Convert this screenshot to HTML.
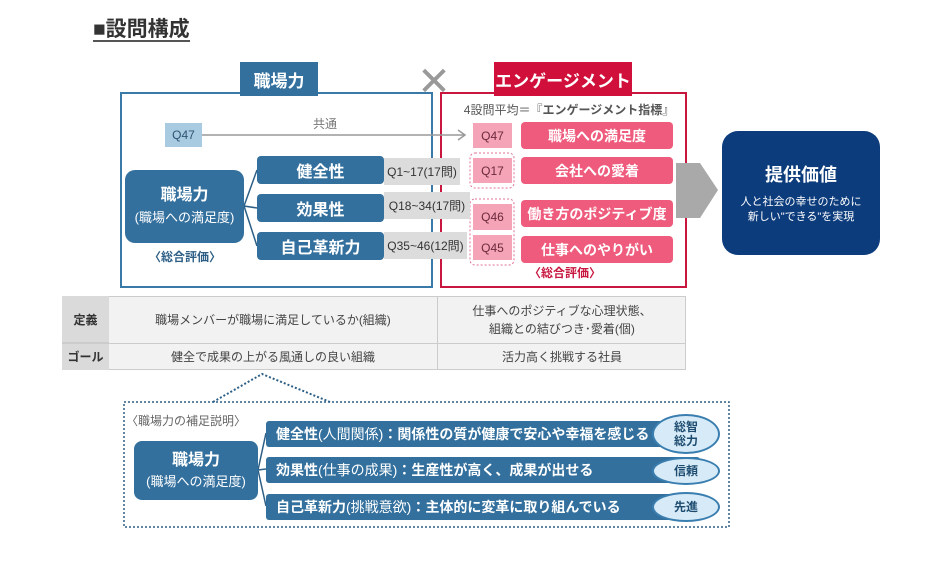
<!DOCTYPE html>
<html><head><meta charset="utf-8"><style>
*{margin:0;padding:0;box-sizing:border-box}
body{width:947px;height:578px;background:#fff;position:relative;overflow:hidden;font-family:"Liberation Sans","Noto Sans CJK JP",sans-serif}
.a{position:absolute;display:flex;align-items:center;justify-content:center;text-align:center;white-space:nowrap}
.bl{background:#33709e;color:#fff;font-weight:bold}
.pk{background:#ef5b7c;color:#fff;font-weight:bold;border-radius:4px;font-size:14px}
.pq{background:#f5a3b7;color:#6b2a3a;font-size:12px}
.gq{background:#dcdcdc;color:#333;font-size:12px}
.ov{background:#d6ebf7;border:2px solid #3a7eb0;border-radius:50%;color:#1e4c70;font-weight:bold;font-size:12px;line-height:14px}
</style></head><body>
<div class="a" style="left:93px;top:16px;height:26px;font-size:21px;font-weight:bold;color:#333;border-bottom:2px solid #555">■設問構成</div>

<div style="position:absolute;left:120px;top:92px;width:313px;height:196px;border:2px solid #3a7aa8"></div>
<div style="position:absolute;left:440px;top:92px;width:247px;height:196px;border:2px solid #c8163e"></div>
<div class="a bl" style="left:240px;top:62px;width:78px;height:34px;font-size:17px">職場力</div>
<div class="a" style="left:494px;top:62px;width:138px;height:34px;font-size:17px;font-weight:bold;color:#fff;background:#d0103a">エンゲージメント</div>
<div class="a" style="left:414px;top:62px;width:40px;height:40px;font-size:40px;color:#999;font-weight:300">✕</div>

<svg style="position:absolute;left:0;top:0" width="947" height="578">
<line x1="202" y1="135" x2="465" y2="135" stroke="#999" stroke-width="1.5"/>
<polyline points="458,130 465,135 458,140" fill="none" stroke="#999" stroke-width="1.5"/>
<path d="M244 206 L257 170 M244 206 L257 208 M244 206 L257 246" stroke="#2d5f86" stroke-width="1.5" fill="none"/>
<rect x="470" y="153" width="44" height="35" rx="5" fill="none" stroke="#e07090" stroke-dasharray="2,2"/>
<rect x="470" y="199" width="44" height="66" rx="5" fill="none" stroke="#e07090" stroke-dasharray="2,2"/>
<polygon points="676,163 700,163 718,190 700,218 676,218" fill="#a9a9a9"/>
<polyline points="213,402 262,374 330,402" fill="none" stroke="#2d5f86" stroke-width="2" stroke-dasharray="2,2"/>
<rect x="124" y="402" width="605" height="125" fill="none" stroke="#2d5f86" stroke-width="1.5" stroke-dasharray="2,2"/>
<path d="M258 470 L266 433 M258 470 L266 469 M258 470 L266 506" stroke="#2d5f86" stroke-width="1.5" fill="none"/>
</svg>

<div class="a" style="left:165px;top:123px;width:37px;height:24px;background:#a8cbe2;color:#2d5470;font-size:12px">Q47</div>
<div class="a" style="left:300px;top:115px;width:50px;height:16px;font-size:12px;color:#777">共通</div>

<div class="a bl" style="left:125px;top:170px;width:119px;height:73px;border-radius:10px;flex-direction:column;font-size:16px;line-height:22px">職場力<span style="font-size:13px;font-weight:normal">(職場への満足度)</span></div>
<div class="a" style="left:145px;top:248px;width:80px;height:16px;font-size:12px;font-weight:bold;color:#2d5f86">〈総合評価〉</div>

<div class="a bl" style="left:257px;top:156px;width:127px;height:28px;border-radius:4px;font-size:16px">健全性</div>
<div class="a bl" style="left:257px;top:194px;width:127px;height:28px;border-radius:4px;font-size:16px">効果性</div>
<div class="a bl" style="left:257px;top:232px;width:127px;height:28px;border-radius:4px;font-size:16px">自己革新力</div>
<div class="a gq" style="left:384px;top:158px;width:76px;height:27px">Q1~17(17問)</div>
<div class="a gq" style="left:384px;top:192px;width:86px;height:27px">Q18~34(17問)</div>
<div class="a gq" style="left:384px;top:232px;width:83px;height:27px">Q35~46(12問)</div>

<div class="a" style="left:474px;top:101px;width:190px;height:16px;font-size:12px;color:#555">4設問平均＝『<b>エンゲージメント指標</b>』</div>
<div class="a pq" style="left:473px;top:123px;width:39px;height:25px">Q47</div>
<div class="a pq" style="left:473px;top:158px;width:39px;height:25px">Q17</div>
<div class="a pq" style="left:473px;top:204px;width:39px;height:26px">Q46</div>
<div class="a pq" style="left:473px;top:235px;width:39px;height:25px">Q45</div>
<div class="a pk" style="left:521px;top:122px;width:152px;height:27px">職場への満足度</div>
<div class="a pk" style="left:521px;top:157px;width:152px;height:27px">会社への愛着</div>
<div class="a pk" style="left:521px;top:200px;width:152px;height:27px">働き方のポジティブ度</div>
<div class="a pk" style="left:521px;top:236px;width:152px;height:27px">仕事へのやりがい</div>
<div class="a" style="left:520px;top:264px;width:90px;height:16px;font-size:12px;font-weight:bold;color:#c8163e">〈総合評価〉</div>

<div class="a" style="left:722px;top:131px;width:158px;height:124px;background:#0d3c7c;border-radius:16px;color:#fff;flex-direction:column">
<div style="font-size:18px;font-weight:bold;margin-bottom:8px">提供価値</div>
<div style="font-size:11px;line-height:15px">人と社会の幸せのために<br>新しい"できる"を実現</div></div>

<div style="position:absolute;left:62px;top:296px;width:624px;height:74px;border:1px solid #ccc;background:#f2f2f2"></div>
<div class="a" style="left:62px;top:296px;width:47px;height:47px;background:#dadada;font-size:12px;font-weight:bold;color:#333;border-bottom:1px solid #ccc">定義</div>
<div class="a" style="left:62px;top:343px;width:47px;height:27px;background:#dadada;font-size:12px;font-weight:bold;color:#333">ゴール</div>
<div style="position:absolute;left:62px;top:343px;width:624px;height:1px;background:#ccc"></div>
<div style="position:absolute;left:437px;top:296px;width:1px;height:74px;background:#ccc"></div>
<div class="a" style="left:109px;top:296px;width:328px;height:47px;font-size:12px;color:#444">職場メンバーが職場に満足しているか(組織)</div>
<div class="a" style="left:438px;top:296px;width:248px;height:47px;font-size:12px;color:#444;line-height:18px;white-space:normal">仕事へのポジティブな心理状態、<br>組織との結びつき･愛着(個)</div>
<div class="a" style="left:109px;top:343px;width:328px;height:27px;font-size:12px;color:#444">健全で成果の上がる風通しの良い組織</div>
<div class="a" style="left:438px;top:343px;width:248px;height:27px;font-size:12px;color:#444">活力高く挑戦する社員</div>

<div class="a" style="left:126px;top:412px;width:130px;height:16px;font-size:12px;color:#666;justify-content:flex-start">〈職場力の補足説明〉</div>
<div class="a bl" style="left:134px;top:441px;width:124px;height:59px;border-radius:8px;flex-direction:column;font-size:16px;line-height:21px">職場力<span style="font-size:13px;font-weight:normal">(職場への満足度)</span></div>
<div class="a bl" style="left:266px;top:421px;width:434px;height:26px;border-radius:3px;font-size:14px;justify-content:flex-start;padding-left:10px">健全性<span style="font-weight:normal">(人間関係)</span>：関係性の質が健康で安心や幸福を感じる</div>
<div class="a bl" style="left:266px;top:457px;width:434px;height:26px;border-radius:3px;font-size:14px;justify-content:flex-start;padding-left:10px">効果性<span style="font-weight:normal">(仕事の成果)</span>：生産性が高く、成果が出せる</div>
<div class="a bl" style="left:266px;top:494px;width:434px;height:26px;border-radius:3px;font-size:14px;justify-content:flex-start;padding-left:10px">自己革新力<span style="font-weight:normal">(挑戦意欲)</span>：主体的に変革に取り組んでいる</div>
<div class="a ov" style="left:652px;top:414px;width:68px;height:40px;flex-direction:column">総智<br>総力</div>
<div class="a ov" style="left:652px;top:457px;width:68px;height:28px">信頼</div>
<div class="a ov" style="left:652px;top:492px;width:68px;height:30px">先進</div>
</body></html>
